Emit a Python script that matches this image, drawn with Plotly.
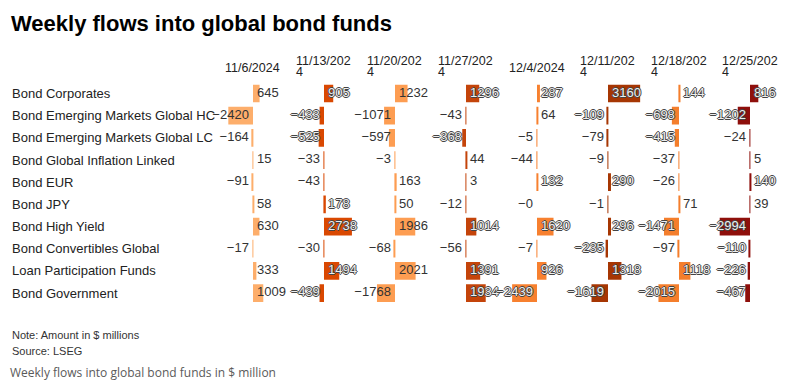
import plotly.graph_objects as go

# ---------------- data ----------------
dates = ["11/6/2024", "11/13/2024", "11/20/2024", "11/27/2024",
         "12/4/2024", "12/11/2024", "12/18/2024", "12/25/2024"]
funds = ["Bond Corporates", "Bond Emerging Markets Global HC",
         "Bond Emerging Markets Global LC", "Bond Global Inflation Linked",
         "Bond EUR", "Bond JPY", "Bond High Yield", "Bond Convertibles Global",
         "Loan Participation Funds", "Bond Government"]

w_1106 = [645, -2420, -164, 15, -91, 58, 630, -17, 333, 1009]
w_1113 = [905, -433, -525, -33, -43, 178, 2738, -30, 1494, -439]
w_1120 = [1232, -1071, -597, -3, 163, 50, 1986, -68, 2021, -1768]
w_1127 = [1296, -43, -368, 44, 3, -12, 1014, -56, 1391, 1934]
w_1204 = [287, 64, -5, -44, 132, -0.3, 1620, -7, 926, -2439]
w_1211 = [3160, -109, -79, -9, 290, -1, 296, -235, 1318, -1619]
w_1218 = [144, -698, -415, -37, -26, 71, -1471, -97, 1118, -2015]
w_1225 = [816, -1202, -24, 5, 140, 39, -2994, -110, -226, -467]

columns = [w_1106, w_1113, w_1120, w_1127, w_1204, w_1211, w_1218, w_1225]

# ---------------- style ----------------
W, H = 788, 387
colors = ["#fdae6b", "#d94801", "#fd9d52", "#c4440a",
          "#f7802f", "#a63603", "#f47e2c", "#8e0f0b"]
dark_col = [False, True, False, True, True, True, True, True]
X_MIN, X_MAX = -3000, 3200
SCALE = 0.0102          # px per unit
ZERO0, STEP = 253, 71   # px position of first column's zero line, column pitch
ROW_TOP, ROW_PITCH = 93.5, 22.17
FONT = "Liberation Sans"
HALO = "1px 0 0 #444, -1px 0 0 #444, 0 1px 0 #444, 0 -1px 0 #444"


def fmt(v):
    r = abs(int(round(v)))
    return ("\u2212" + str(r)) if v < 0 else str(r)


fig = go.Figure()
layout_axes = {}
annotations = []

y_top_px = ROW_TOP - ROW_PITCH / 2
y_bot_px = ROW_TOP + ROW_PITCH * (len(funds) - 0.5)
ydom = [1 - y_bot_px / H, 1 - y_top_px / H]

text_traces = []
for i, (d, vals) in enumerate(zip(dates, columns)):
    ax = "x" if i == 0 else f"x{i + 1}"
    axname = "xaxis" if i == 0 else f"xaxis{i + 1}"
    zero = ZERO0 + STEP * i
    left = zero + X_MIN * SCALE
    right = zero + X_MAX * SCALE
    layout_axes[axname] = dict(domain=[left / W, right / W], range=[X_MIN, X_MAX],
                               visible=False, fixedrange=True, anchor="y")
    fig.add_trace(go.Bar(x=vals, y=funds, orientation="h", xaxis=ax, yaxis="y",
                         marker=dict(color=colors[i], line=dict(width=0)),
                         width=0.8, hoverinfo="skip"))
    for halo in (False, True):
        idx = [k for k, v in enumerate(vals)
               if (dark_col[i] and abs(v) >= 100) == halo]
        if not idx:
            continue
        text_traces.append(go.Scatter(
            x=[0] * len(idx), y=[funds[k] for k in idx], xaxis=ax, yaxis="y",
            mode="markers+text", marker=dict(size=5, color="rgba(0,0,0,0)"),
            text=[fmt(vals[k]) for k in idx],
            textposition=["middle left" if vals[k] < 0 else "middle right" for k in idx],
            textfont=dict(family=FONT, size=13,
                          color="#eeeeee" if halo else "#333333",
                          shadow=HALO if halo else "none"),
            cliponaxis=False, hoverinfo="skip"))
    # column header (wrapped as in the original)
    hx = (zero - 30) / W
    hfont = dict(family=FONT, size=12.5, color="#222")
    if len(d) > 9:
        annotations.append(dict(text=d[:9], x=hx, y=1 - 61 / H, xref="paper", yref="paper",
                                xanchor="left", yanchor="middle", showarrow=False, font=hfont))
        annotations.append(dict(text=d[9:], x=hx, y=1 - 72 / H, xref="paper", yref="paper",
                                xanchor="left", yanchor="middle", showarrow=False, font=hfont))
    else:
        annotations.append(dict(text=d, x=hx, y=1 - 68 / H, xref="paper", yref="paper",
                                xanchor="left", yanchor="middle", showarrow=False, font=hfont))

for t in text_traces:
    fig.add_trace(t)

for f in funds:
    annotations.append(dict(text=f, x=10 / W, y=f, xref="paper", yref="y",
                            xanchor="left", yanchor="middle", showarrow=False,
                            font=dict(family=FONT, size=13, color="#222")))

annotations.append(dict(text="<b>Weekly flows into global bond funds</b>", x=9 / W, y=1 - 23.5 / H,
                        xref="paper", yref="paper", xanchor="left", yanchor="middle",
                        showarrow=False, font=dict(family=FONT, size=22, color="#000")))
annotations.append(dict(text="Note: Amount in $ millions", x=10 / W, y=1 - 334.5 / H,
                        xref="paper", yref="paper", xanchor="left", yanchor="middle",
                        showarrow=False, font=dict(family=FONT, size=11, color="#333")))
annotations.append(dict(text="Source: LSEG", x=10 / W, y=1 - 351 / H,
                        xref="paper", yref="paper", xanchor="left", yanchor="middle",
                        showarrow=False, font=dict(family=FONT, size=11, color="#333")))
annotations.append(dict(text="Weekly flows into global bond funds in $ million", x=8 / W,
                        y=1 - 372.5 / H, xref="paper", yref="paper", xanchor="left",
                        yanchor="middle", showarrow=False,
                        font=dict(family="Open Sans", size=12, color="#5a5a5a")))

fig.update_layout(
    width=W, height=H, margin=dict(l=0, r=0, t=0, b=0),
    paper_bgcolor="white", plot_bgcolor="white", showlegend=False,
    barmode="overlay",
    yaxis=dict(type="category", categoryorder="array", categoryarray=funds,
               range=[len(funds) - 0.5, -0.5], domain=ydom, visible=False,
               fixedrange=True),
    annotations=annotations,
    **layout_axes,
)

fig.write_html("out.html", config={"displayModeBar": False},
               post_script="document.body.style.margin='0';document.body.style.overflow='hidden';")
